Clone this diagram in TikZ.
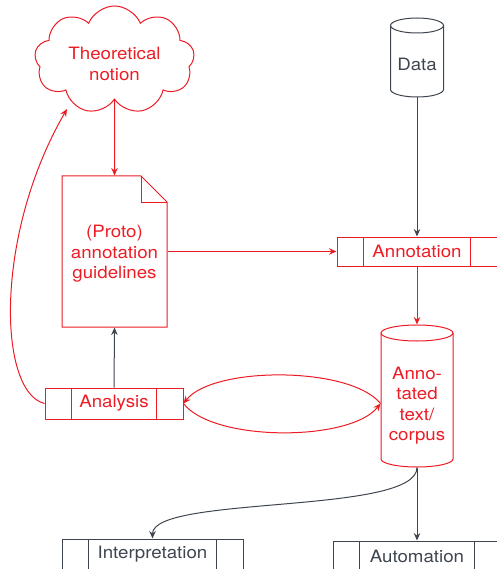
\documentclass[tikz,border=0pt]{standalone}
\usepackage{fontspec}
\setmainfont{TeX Gyre Heros}[FakeStretch=1.1]
\usetikzlibrary{shapes.symbols,arrows.meta}
\definecolor{myred}{RGB}{237,28,36}
\definecolor{mygray}{RGB}{62,69,78}
\tikzset{
  lbl/.style={font=\fontsize{17}{20.5}\selectfont, align=center, inner sep=0pt},
  procbox/.style={draw=#1, text=#1, rectangle, inner sep=0pt, minimum height=30pt,
    font=\fontsize{17}{20.5}\selectfont,
    path picture={\draw[#1, line width=1pt]
      ([xshift=26.5pt]path picture bounding box.north west) -- ([xshift=26.5pt]path picture bounding box.south west)
      ([xshift=-26.5pt]path picture bounding box.north east) -- ([xshift=-26.5pt]path picture bounding box.south east);}},
  redarrow/.style={draw=myred, ->},
  grayarrow/.style={draw=mygray, ->},
}
\begin{document}
\begin{tikzpicture}[x=1pt, y=1pt, line width=1pt,
  >={Stealth[length=7.5pt,width=6.5pt,inset=2.5pt]}]
\useasboundingbox (0,0) rectangle (496,-569);

% cloud
\node[cloud, draw=myred, cloud puffs=9, cloud puff arc=135, aspect=1.5,
  minimum width=160pt, minimum height=108pt, inner sep=0pt] (cloud) at (114.5,-60) {};
\node[lbl, text=myred] (cloudtxt) at (114.5,-64) {Theoretical\\notion};

% document
\node[minimum width=105pt, minimum height=151pt, inner sep=0pt] (doc) at (114.5,-251.5) {};
\draw[myred] (62,-176) -- (141,-176) -- (167,-202) -- (167,-327) -- (62,-327) -- cycle;
\draw[myred] (141,-176) -- (141,-202) -- (167,-202);
\node[lbl, text=myred] (doctxt) at (114.5,-254) {(Proto)\\annotation\\guidelines};

% data cylinder
\node[minimum width=53pt, minimum height=79pt, inner sep=0pt] (data) at (417,-57.5) {};
\draw[mygray] (390.5,-25.5) -- (390.5,-89.5) arc[start angle=180, end angle=360, x radius=26.5, y radius=7.5] -- (443.5,-25.5);
\draw[mygray] (417,-25.5) ellipse[x radius=26.5, y radius=7.5];
\node[lbl, text=mygray] (datatxt) at (417,-64) {Data};

% corpus cylinder
\node[minimum width=72pt, minimum height=142pt, inner sep=0pt] (corpus) at (417,-396) {};
\draw[myred] (381,-333) -- (381,-459) arc[start angle=180, end angle=360, x radius=36, y radius=8] -- (453,-333);
\draw[myred] (417,-333) ellipse[x radius=36, y radius=8];
\node[lbl, text=myred] (corpustxt) at (417,-405.5) {Anno-\\tated\\text/\\corpus};

% process boxes
\node[procbox=myred, minimum width=160pt, minimum height=29pt] (annot) at (417,-251.5) {Annotation};
\node[procbox=myred, minimum width=138pt, minimum height=31pt] (analysis) at (114,-403.5) {Analysis};
\node[procbox=mygray, minimum width=181pt, minimum height=31pt] (interp) at (152.5,-554.5) {Interpretation};
\node[procbox=mygray, minimum width=168pt, minimum height=31pt] (autom) at (417,-556.5) {Automation};

\coordinate (cin) at (67,-109);

% connectors
\draw[redarrow] (cloud.south) -- (doc.north);
\draw[redarrow] (doc.east) -- (annot.west);
\draw[grayarrow] (data.south) -- (annot.north);
\draw[redarrow] (annot.south) -- (corpus.north);
\draw[grayarrow] (analysis.north) -- (doc.south);
\draw[redarrow] (analysis.west) .. controls (-2,-392) and (-6,-235) .. (cin);
\draw[redarrow] (analysis.east -| corpus.west) .. controls (350,-366) and (213,-366) .. (analysis.east);
\draw[redarrow] (analysis.east) .. controls (213,-442) and (350,-442) .. (analysis.east -| corpus.west);
\draw[grayarrow] (corpus.south) -- (autom.north);
\draw[grayarrow] (corpus.south) .. controls (417,-515) and (152.5,-495) .. (interp.north);
\end{tikzpicture}
\end{document}
